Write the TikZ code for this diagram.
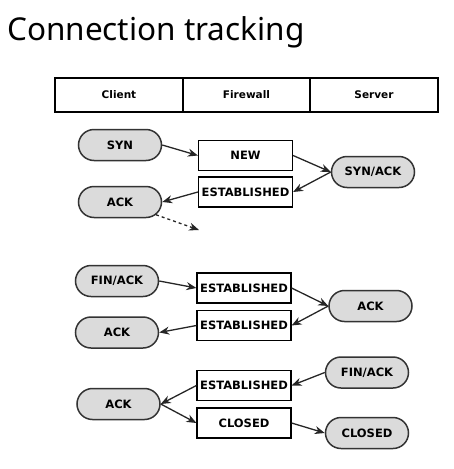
\documentclass[tikz,border=0pt]{standalone}
\usepackage{fontspec}
\setmainfont{DejaVu Sans}
\newfontfamily\titlefont{Noto Sans}
\usetikzlibrary{shapes.misc,arrows.meta}
\begin{document}
\begin{tikzpicture}[x=1pt,y=-1pt,
  pill/.style={rounded rectangle,draw=black!80,fill=black!14,line width=1.5pt,minimum width=83pt,minimum height=31pt,inner sep=0pt,font=\fontsize{11.5}{13}\selectfont\bfseries},
  box/.style={rectangle,draw=black,line width=1.2pt,minimum width=94pt,minimum height=30pt,inner sep=0pt,font=\fontsize{11.5}{13}\selectfont\bfseries},
  hdr/.style={rectangle,draw=black,line width=1.3pt,minimum height=34pt,inner sep=0pt,font=\fontsize{10.5}{12}\selectfont\bfseries},
  arr/.style={-{Stealth[length=10pt,width=8pt]},draw=black!85,line width=1.3pt}]
\useasboundingbox (0,0) rectangle (453,469);
\node[anchor=base west,inner sep=0pt,font=\titlefont\fontsize{31.5}{36}\selectfont] (title) at (7,40) {Connection tracking};
% header
\node[hdr,minimum width=128pt] (client) at (119,95) {Client};
\node[hdr,minimum width=127pt] (fw) at (246.5,95) {Firewall};
\node[hdr,minimum width=128pt] (server) at (374,95) {Server};
% block 1
\node[pill] (syn) at (120,145) {SYN};
\node[box] (new) at (245.5,155.5) {NEW};
\node[pill] (synack) at (373,172) {SYN/ACK};
\node[box] (est1) at (245.5,192) {ESTABLISHED};
\node[pill] (ack1) at (120,202) {ACK};
\coordinate (dend) at (199,230);
\draw[arr] (syn.east) -- (new.west);
\draw[arr] (new.east) -- (synack.west);
\draw[arr] (synack.west) -- (est1.east);
\draw[arr] (est1.west) -- (ack1.east);
\draw[arr,dashed] (ack1) -- (dend);
% block 2
\node[pill] (finack1) at (117,281) {FIN/ACK};
\node[box] (est2) at (244,288) {ESTABLISHED};
\node[pill] (ack2) at (370.5,306) {ACK};
\node[box] (est3) at (244,325.5) {ESTABLISHED};
\node[pill] (ack3) at (117,332.5) {ACK};
\draw[arr] (finack1.east) -- (est2.west);
\draw[arr] (est2.east) -- (ack2.west);
\draw[arr] (ack2.west) -- (est3.east);
\draw[arr] (est3.west) -- (ack3.east);
% block 3
\node[pill] (finack2) at (367,372.5) {FIN/ACK};
\node[box] (est4) at (244,385.5) {ESTABLISHED};
\node[pill] (ack4) at (118.5,404) {ACK};
\node[box] (closed1) at (244,423) {CLOSED};
\node[pill] (closed2) at (367,433) {CLOSED};
\draw[arr] (finack2.west) -- (est4.east);
\draw[arr] (est4.west) -- (ack4.east);
\draw[arr] (ack4.east) -- (closed1.west);
\draw[arr] (closed1.east) -- (closed2.west);
\end{tikzpicture}
\end{document}
